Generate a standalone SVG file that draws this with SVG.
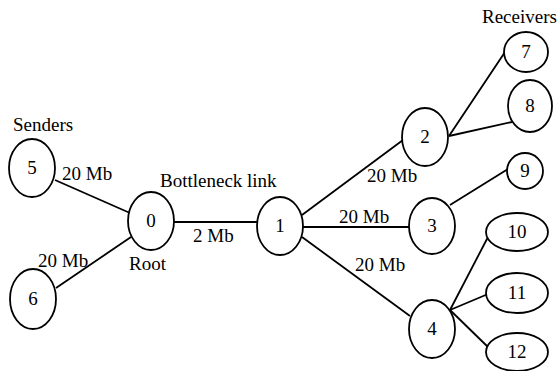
<svg xmlns="http://www.w3.org/2000/svg" width="558" height="371" viewBox="0 0 558 371">
  <style>
    .node ellipse { fill: #ffffff; stroke: #000000; stroke-width: 1.8; }
    .node text { font-family: "Liberation Serif", "Times New Roman", serif; font-size: 19px; text-anchor: middle; fill: #000000; }
    .edges line { stroke: #000000; stroke-width: 1.8; }
    .label { font-family: "Liberation Serif", "Times New Roman", serif; font-size: 19px; fill: #000000; }
  </style>
  <rect width="558" height="371" fill="#ffffff"/>

  <!-- links -->
  <g id="edges" class="edges">
    <line x1="55" y1="180" x2="130" y2="213"/>
    <line x1="56" y1="288" x2="131" y2="237"/>
    <line x1="174" y1="222" x2="257" y2="222"/>
    <line x1="302" y1="215" x2="403" y2="140"/>
    <line x1="303" y1="227" x2="409" y2="227"/>
    <line x1="302" y1="237" x2="410" y2="316"/>
    <line x1="449" y1="136" x2="505" y2="52"/>
    <line x1="449" y1="136" x2="512" y2="122"/>
    <line x1="450" y1="205" x2="508" y2="169"/>
    <line x1="450" y1="310" x2="488" y2="237"/>
    <line x1="450" y1="310" x2="488" y2="294"/>
    <line x1="450" y1="310" x2="489" y2="348"/>
  </g>

  <!-- hosts and routers -->
  <g id="node-5" class="node"><ellipse cx="32" cy="168" rx="23" ry="29"/><text x="32" y="174">5</text></g>
  <g id="node-6" class="node"><ellipse cx="33" cy="299" rx="23" ry="30"/><text x="33" y="305">6</text></g>
  <g id="node-0" class="node"><ellipse cx="151" cy="221" rx="23" ry="29"/><text x="151" y="227">0</text></g>
  <g id="node-1" class="node"><ellipse cx="280" cy="226" rx="23" ry="29"/><text x="280" y="232">1</text></g>
  <g id="node-2" class="node"><ellipse cx="425" cy="137" rx="23" ry="29"/><text x="425" y="143">2</text></g>
  <g id="node-3" class="node"><ellipse cx="432" cy="226" rx="23" ry="28"/><text x="432" y="232">3</text></g>
  <g id="node-4" class="node"><ellipse cx="432" cy="329" rx="23" ry="29"/><text x="432" y="335">4</text></g>
  <g id="node-7" class="node"><ellipse cx="526" cy="52" rx="22" ry="20"/><text x="526" y="58">7</text></g>
  <g id="node-8" class="node"><ellipse cx="530" cy="106" rx="22" ry="26"/><text x="530" y="112">8</text></g>
  <g id="node-9" class="node"><ellipse cx="525" cy="171" rx="18" ry="18"/><text x="525" y="177">9</text></g>
  <g id="node-10" class="node"><ellipse cx="517" cy="232" rx="31" ry="19"/><text x="517" y="238">10</text></g>
  <g id="node-11" class="node"><ellipse cx="517" cy="293" rx="31" ry="20"/><text x="517" y="299">11</text></g>
  <g id="node-12" class="node"><ellipse cx="517" cy="352" rx="31" ry="19"/><text x="517" y="358">12</text></g>

  <!-- annotations -->
  <g id="labels">
    <text class="label" x="13" y="131">Senders</text>
    <text class="label" x="62" y="180">20 Mb</text>
    <text class="label" x="38" y="267">20 Mb</text>
    <text class="label" x="129" y="270">Root</text>
    <text class="label" x="160" y="187">Bottleneck link</text>
    <text class="label" x="193" y="242">2 Mb</text>
    <text class="label" x="482" y="23">Receivers</text>
    <text class="label" x="367" y="182">20 Mb</text>
    <text class="label" x="339" y="223">20 Mb</text>
    <text class="label" x="355" y="271">20 Mb</text>
  </g>
</svg>
